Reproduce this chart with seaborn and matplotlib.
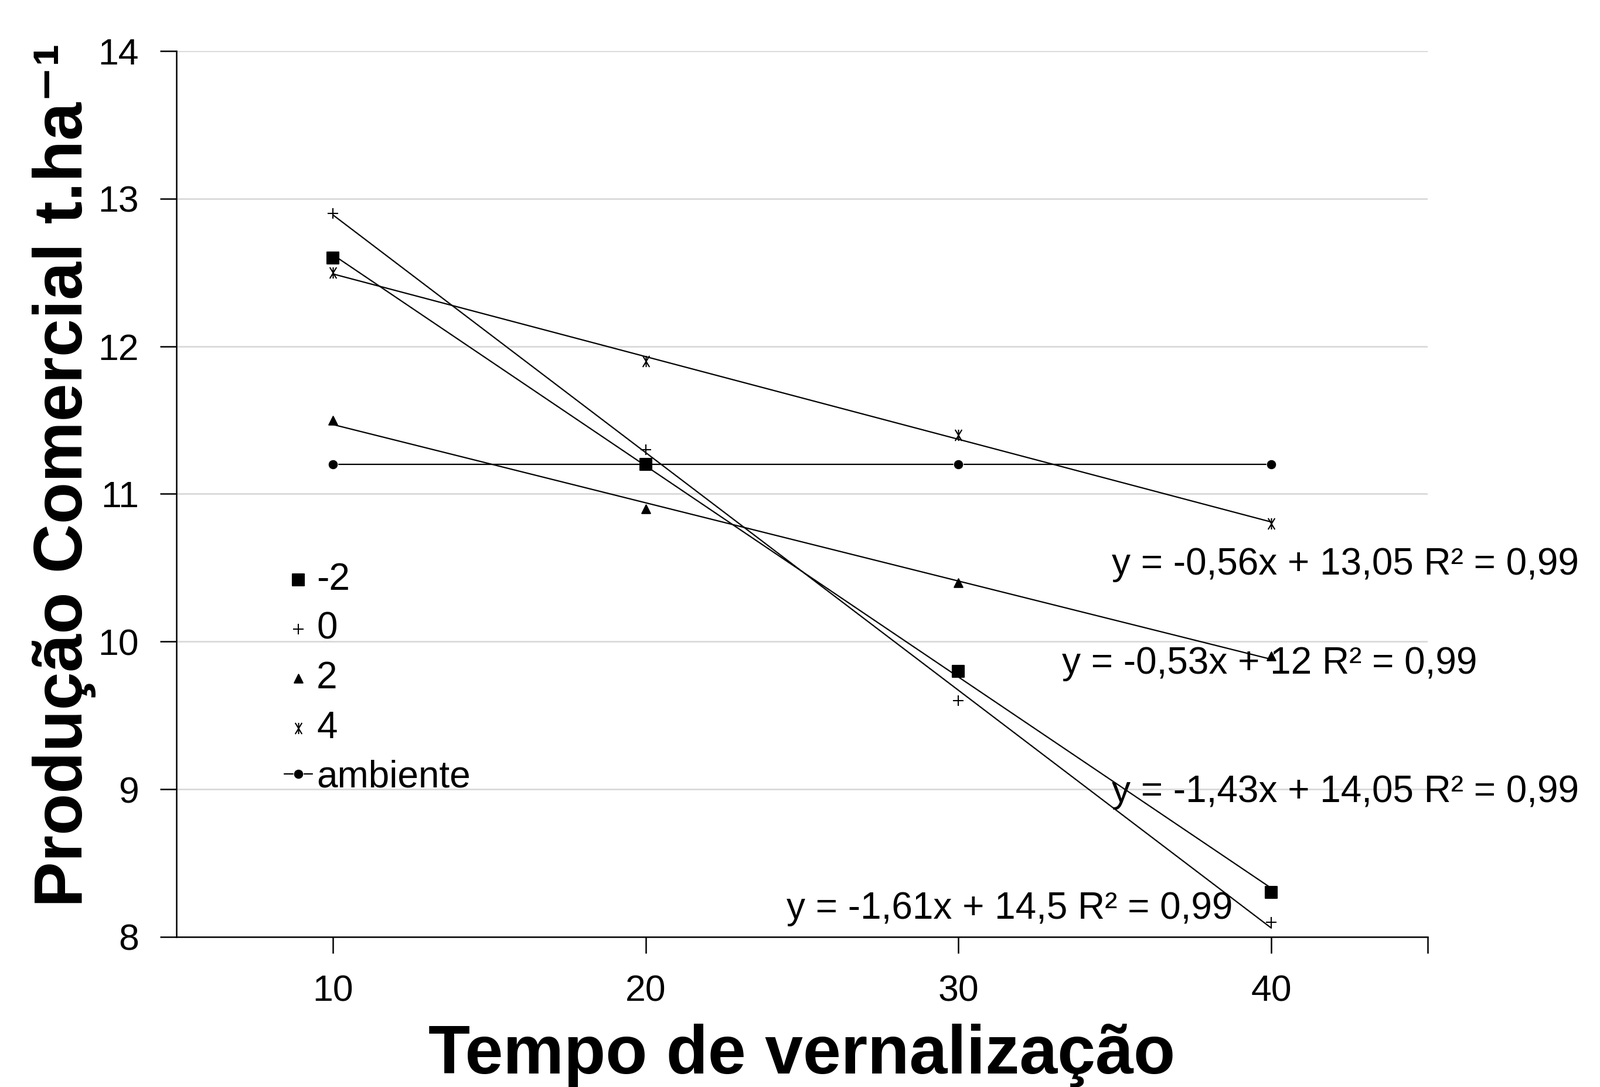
import numpy as np
import pandas as pd
import matplotlib.pyplot as plt
import seaborn as sns
from matplotlib.path import Path

# dados
tempo = [10, 20, 30, 40]
temp_m2 = [12.6, 11.2, 9.8, 8.3]
temp_0 = [12.9, 11.3, 9.6, 8.1]
temp_2 = [11.5, 10.9, 10.4, 9.9]
temp_4 = [12.5, 11.9, 11.4, 10.8]
ambiente = [11.2, 11.2, 11.2, 11.2]

rotulos = ["-2", "0", "2", "4"]
equacoes = ["y = -0,56x + 13,05 R² = 0,99",
            "y = -0,53x + 12 R² = 0,99",
            "y = -1,43x + 14,05 R² = 0,99",
            "y = -1,61x + 14,5 R² = 0,99"]

sns.set_style("white")
plt.rcParams['font.family'] = ['Liberation Sans', 'DejaVu Sans']
plt.rcParams.update({"text.color": "black", "axes.labelcolor": "black",
                     "xtick.color": "black", "ytick.color": "black"})

# marcador estrela estilo excel (X com traco vertical)
star = Path([(-0.6, -1), (0.6, 1), (-0.6, 1), (0.6, -1), (0, -1), (0, 1)],
            [Path.MOVETO, Path.LINETO, Path.MOVETO, Path.LINETO, Path.MOVETO, Path.LINETO])

fig = plt.figure(figsize=(27.3, 18.54), dpi=100)
ax = fig.add_axes([0.1103, 0.1381, 0.782, 0.815])

series = [temp_m2, temp_0, temp_2, temp_4]
markers = ["s", "+", "^", star]
sizes = [200, 180, 110, 190]
for vals, lab, mk, sz in zip(series, rotulos, markers, sizes):
    sns.scatterplot(x=tempo, y=vals, marker=mk, s=sz, color="black",
                    edgecolor="black", linewidth=1.5, label=lab, ax=ax, zorder=3)
    sns.regplot(x=tempo, y=vals, scatter=False, ci=None, color="black",
                line_kws={"lw": 1.6}, ax=ax)

sns.lineplot(x=tempo, y=ambiente, marker="o", markersize=12, color="black",
             lw=1.6, label="ambiente", ax=ax)

# equacoes das linhas de tendencia
pos_eq = [(34.9, 10.52), (33.3, 9.85), (34.9, 8.98), (24.5, 8.19)]
for txt, (tx, ty) in zip(equacoes, pos_eq):
    ax.text(tx, ty, txt, fontsize=46, va="center", ha="left", clip_on=False)

ax.set_xlim(5, 45)
ax.set_ylim(8, 14)
ax.set_xticks([10, 20, 30, 40])
ax.set_xticks([45], minor=True)
ax.set_yticks(range(8, 15))
ax.yaxis.grid(True, color="#d9d9d9", lw=2)
ax.xaxis.grid(False)
for s in ["top", "right"]:
    ax.spines[s].set_visible(False)
for s in ["left", "bottom"]:
    ax.spines[s].set_color("black")
    ax.spines[s].set_linewidth(1.8)
ax.tick_params(axis="both", which="both", direction="out", length=20, width=1.8,
               color="black", labelsize=45, pad=26, bottom=True, left=True)
ax.tick_params(axis="x", which="minor", labelbottom=False)

ax.set_xlabel("Tempo de vernalização", fontsize=84, fontweight="bold")
ax.set_ylabel("Produção Comercial t.ha⁻¹", fontsize=84, fontweight="bold")
ax.xaxis.set_label_coords(0.5, -0.098)
ax.yaxis.set_label_coords(-0.064, 0.521)

leg = ax.legend(loc="upper left", bbox_to_anchor=(0.074, 0.44), frameon=False,
                fontsize=46, handlelength=0.75, handletextpad=0.12,
                labelspacing=0.38, borderaxespad=0)

plt.savefig("out.png", dpi=100)
